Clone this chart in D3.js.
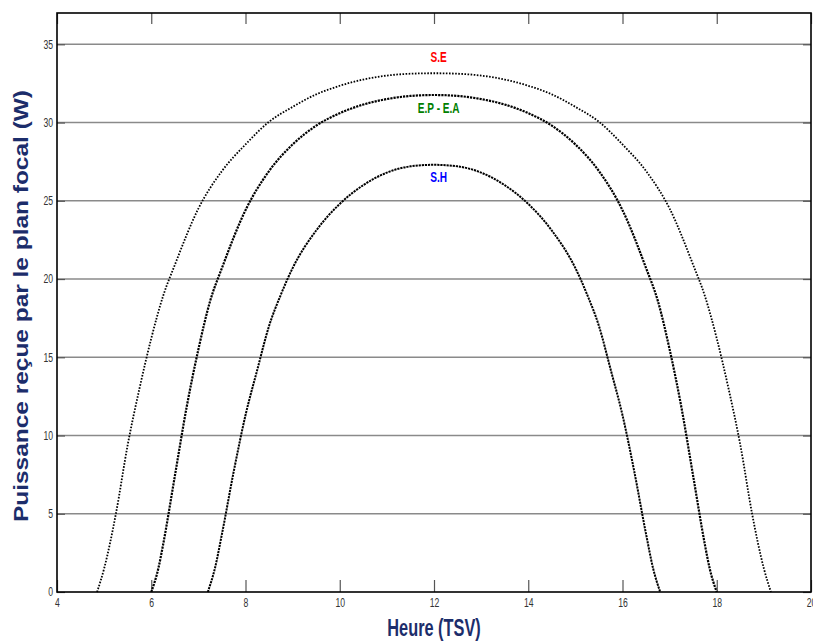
<!DOCTYPE html>
<html><head><meta charset="utf-8">
<script src="https://cdn.jsdelivr.net/npm/d3@7"></script>
<style>
html,body{margin:0;padding:0;background:#fff;}
svg{display:block;}
</style></head>
<body>
<script>
// Data
const hoursSE = [4.85,5.0,5.25,5.5,5.75,6.0,6.25,6.5,7.0,7.5,8.0,8.5,9.0,9.5,10.0,10.5,11.0,11.5,12.0,12.5,13.0,13.5,14.0,14.5,15.0,15.5,16.0,16.5,17.0,17.5,17.75,18.0,18.25,18.5,18.75,19.0,19.15];
const powerSE = [0,1.5,5,9.4,13,16.2,18.9,20.9,24.5,26.9,28.6,30.05,31.0,31.8,32.35,32.75,33.0,33.12,33.15,33.12,33.0,32.75,32.35,31.8,31.0,30.05,28.6,26.9,24.5,20.9,18.9,16.2,13,9.4,5,1.5,0];
const hoursEP = [6.0,6.15,6.25,6.5,6.75,7.0,7.25,7.5,8.0,8.5,9.0,9.5,10.0,10.5,11.0,11.5,12.0,12.5,13.0,13.5,14.0,14.5,15.0,15.5,16.0,16.5,16.75,17.0,17.25,17.5,17.75,17.85,18.0];
const powerEP = [0,1.5,3,7.4,11.8,15.5,18.6,20.7,24.4,26.9,28.6,29.8,30.6,31.15,31.5,31.7,31.76,31.7,31.5,31.15,30.6,29.8,28.6,26.9,24.4,20.7,18.6,15.5,11.8,7.4,3,1.5,0];
const hoursSH = [7.2,7.35,7.5,7.75,8.0,8.25,8.5,8.75,9.0,9.5,10.0,10.5,11.0,11.5,12.0,12.5,13.0,13.5,14.0,14.5,15.0,15.25,15.5,15.75,16.0,16.25,16.5,16.65,16.8];
const powerSH = [0,1.5,3.7,7.7,11.3,14.2,17.0,19.0,20.7,23.1,24.8,26.0,26.8,27.2,27.3,27.2,26.8,26.0,24.8,23.1,20.7,19.0,17.0,14.2,11.3,7.7,3.7,1.5,0];
const seriesNames = ["S.E","E.P - E.A","S.H"];
const seriesColors = ["#ff0000","#008000","#0000ff"];
const labelValues = [33.85, 30.6, 26.2];
const xTicks = [4,6,8,10,12,14,16,18,20];
const yTicks = [0,5,10,15,20,25,30,35];
const xLabel = "Heure (TSV)";
const yLabel = "Puissance reçue par le plan focal (W)";

const W = 813, H = 642;
const m = {left:57, right:2, top:13, bottom:50};
const pw = W - m.left - m.right, ph = H - m.top - m.bottom;

const svg = d3.select("body").append("svg").attr("width", W).attr("height", H);
const x = d3.scaleLinear().domain([4,20]).range([m.left, m.left+pw]);
const y = d3.scaleLinear().domain([0,37]).range([m.top+ph, m.top]);

const sans = "'Liberation Sans',Arial,sans-serif";
function condense(sel, f){
  sel.each(function(){
    const L = this.getComputedTextLength();
    if (L > 0) d3.select(this).attr("textLength", L*f).attr("lengthAdjust","spacingAndGlyphs");
  });
}

// gridlines
svg.append("g").selectAll("line").data(yTicks.filter(d=>d>0)).join("line")
  .attr("x1", m.left).attr("x2", m.left+pw)
  .attr("y1", d=>y(d)).attr("y2", d=>y(d))
  .attr("stroke", "#8a8a8a").attr("stroke-width", 1.4);

// axes
const fmt = d3.format("d");
const gx = svg.append("g").attr("transform", `translate(0,${m.top+ph})`)
  .call(d3.axisBottom(x).tickValues(xTicks).tickFormat(fmt).tickSizeInner(-12).tickSizeOuter(0).tickPadding(6));
const gxt = svg.append("g").attr("transform", `translate(0,${m.top})`)
  .call(d3.axisTop(x).tickValues(xTicks).tickFormat("").tickSizeInner(-11).tickSizeOuter(0));
const gy = svg.append("g").attr("transform", `translate(${m.left},0)`)
  .call(d3.axisLeft(y).tickValues(yTicks).tickFormat(fmt).tickSizeInner(-8).tickSizeOuter(0).tickPadding(4));
const gyr = svg.append("g").attr("transform", `translate(${m.left+pw},0)`)
  .call(d3.axisRight(y).tickValues(yTicks).tickFormat("").tickSizeInner(-8).tickSizeOuter(0));
[gx,gxt,gy,gyr].forEach(g=>{
  g.select(".domain").remove();
  g.selectAll(".tick line").attr("stroke","#555").attr("stroke-width",1.2);
  g.selectAll(".tick text").attr("font-family", sans).attr("font-size", 12).attr("fill","#333");
});
condense(gx.selectAll(".tick text"), 0.72);
condense(gy.selectAll(".tick text"), 0.72);

// frame
svg.append("rect").attr("x", m.left).attr("y", m.top).attr("width", pw).attr("height", ph)
  .attr("fill","none").attr("stroke","#000").attr("stroke-width",1.6);

// curves
const series = [
  {h:hoursSE, p:powerSE, dash:"1.6 1.5", w:1.8},
  {h:hoursEP, p:powerEP, dash:"2.2 1.0", w:2.2},
  {h:hoursSH, p:powerSH, dash:"2.2 0.9", w:2.0}
];
const line = d3.line().x(d=>x(d[0])).y(d=>y(d[1])).curve(d3.curveMonotoneX);
series.forEach((s,i)=>{
  svg.append("path").datum(s.h.map((t,j)=>[t,s.p[j]]))
    .attr("d", line).attr("fill","none").attr("stroke","#000")
    .attr("stroke-width", s.w).attr("stroke-dasharray", s.dash);
  const t = svg.append("text").attr("x", x(12.1)).attr("y", y(labelValues[i]))
    .attr("text-anchor","middle").attr("font-family", sans).attr("font-weight","bold")
    .attr("font-size", 14).attr("fill", seriesColors[i]).text(seriesNames[i]);
  condense(t, 0.72);
});

// axis titles
const xl = svg.append("text").attr("x", x(12)).attr("y", 636).attr("text-anchor","middle")
  .attr("font-family", sans).attr("font-weight","bold").attr("font-size", 24)
  .attr("fill","#1c2d6b").text(xLabel);
condense(xl, 0.68);
svg.append("text").attr("transform", `translate(28,306) rotate(-90)`)
  .attr("text-anchor","middle").attr("font-family", sans)
  .attr("font-weight","bold").attr("font-size", 21).attr("fill","#1c2d6b")
  .attr("textLength", 432).attr("lengthAdjust","spacingAndGlyphs").text(yLabel);
</script>
</body></html>
